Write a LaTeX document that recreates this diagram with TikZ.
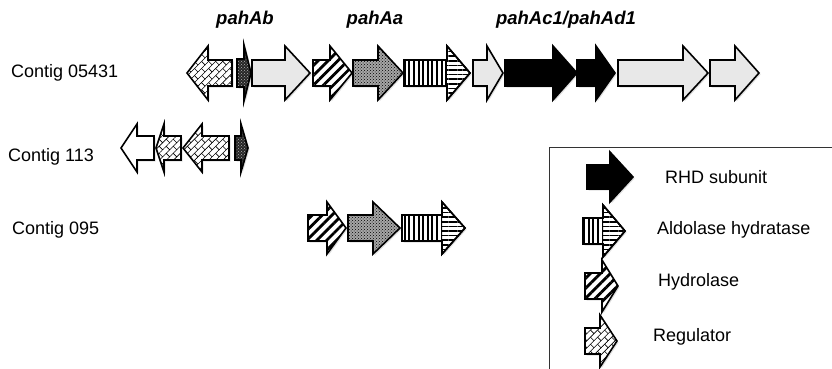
\documentclass[tikz,border=0pt]{standalone}
\usepackage{fontspec}
\setmainfont{Liberation Sans}
\usetikzlibrary{patterns,patterns.meta,shadows}

\tikzdeclarepattern{
  name=diagbricks,
  type=uncolored,
  bottom left={(-.5pt,-.5pt)},
  top right={(10.5pt,10.5pt)},
  tile size={(10pt,10pt)},
  tile transformation={rotate=45},
  code={
    \draw[line width=.6pt] (0pt,0pt) -- (10pt,0pt) (0pt,5pt) -- (10pt,5pt)
      (0pt,0pt) -- (0pt,5pt) (5pt,5pt) -- (5pt,10pt);
  }
}

% gene arrow: start, head base, tip, centre y, body half, head half, style
\newcommand{\gene}[7]{%
  \draw[#7] (#1,#4-#5) -- (#2,#4-#5) -- (#2,#4-#6) -- (#3,#4)
    -- (#2,#4+#6) -- (#2,#4+#5) -- (#1,#4+#5) -- cycle;}
% aldolase hydratase: vertical stripes in the body, horizontal in the head
\newcommand{\aldgene}[6]{%
  \gene{#1}{#2}{#3}{#4}{#5}{#6}{gene, fill=white}
  \fill[pattern={Lines[angle=90,distance=4.6pt,line width=2.1pt]}]
    (#1,#4-#5) rectangle (#2,#4+#5);
  \fill[pattern={Lines[angle=0,distance=4.6pt,line width=1.6pt]}]
    (#2,#4-#6) -- (#3,#4) -- (#2,#4+#6) -- cycle;
  \gene{#1}{#2}{#3}{#4}{#5}{#6}{outline}}

\begin{document}
\begin{tikzpicture}[x=1pt, y=-1pt,
    outline/.style={line width=1.6pt, line join=miter},
    gene/.style={outline, drop shadow={opacity=.25, shadow xshift=1.5pt, shadow yshift=-1.5pt}},
    regulator/.style={gene, preaction={fill=white}, pattern=diagbricks},
    hydrolase/.style={gene, preaction={fill=white}, pattern={Lines[angle=45,distance=7pt,line width=2.8pt]}},
    dotgene/.style={gene, preaction={fill=gray!70}, pattern=crosshatch dots},
    darkgene/.style={gene, preaction={fill=black!85}, pattern=crosshatch dots, pattern color=gray!60},
    rhd/.style={gene, fill=black},
    othergene/.style={gene, fill=gray!18},
    blank/.style={gene, fill=white},
    lab/.style={anchor=west, inner sep=0pt, font=\fontsize{18}{21}\selectfont},
    genename/.style={inner sep=0pt, font=\fontsize{18.5}{22}\selectfont\bfseries\itshape}]
  \useasboundingbox (0,0) rectangle (832,369);

  % contig labels
  \node[lab] (c05431) at (11,73) {Contig 05431};
  \node[lab] (c113) at (8,157) {Contig 113};
  \node[lab] (c095) at (12,230) {Contig 095};

  % gene names
  \node[genename] (pahab) at (245,20) {pahAb};
  \node[genename] (pahaa) at (375,20) {pahAa};
  \node[genename] (pahac) at (566,20) {pahAc1/pahAd1};

  % contig 05431
  \gene{232}{208}{187}{73}{13}{27}{regulator}
  \gene{237}{244}{251}{73}{14}{28}{darkgene}
  \gene{252}{285}{310}{73}{13}{27}{othergene}
  \gene{313}{330}{352}{73}{13}{27}{hydrolase}
  \gene{353}{378}{403}{73}{13}{27}{dotgene}
  \aldgene{404}{447}{470}{73}{13}{27}
  \gene{473}{487}{503}{73}{13}{27}{othergene}
  \gene{505}{553}{577}{73}{13}{27}{rhd}
  \gene{577}{596}{615}{73}{13}{27}{rhd}
  \gene{618}{683}{708}{73}{13}{27}{othergene}
  \gene{710}{735}{759}{73}{13}{27}{othergene}

  % contig 113
  \gene{154}{137}{121}{148}{12}{24}{blank}
  \gene{181}{164}{156}{148}{12}{24}{regulator}
  \gene{229}{202}{183}{148}{12}{24}{regulator}
  \gene{235}{241}{248}{148}{12}{24}{darkgene}

  % contig 095
  \gene{308}{327}{346}{228}{13}{26}{hydrolase}
  \gene{348}{373}{400}{228}{13}{26}{dotgene}
  \aldgene{402}{442}{465}{228}{13}{26}

  % legend
  \draw[line width=1pt, gray!40!black] (832,147) -- (549,147) -- (549,369);
  \gene{587}{610}{633}{177}{12}{25}{rhd}
  \aldgene{583}{603}{625}{231}{13}{26}
  \gene{585}{602}{618}{286}{13}{26}{hydrolase}
  \gene{585}{600}{617}{341}{13}{26}{regulator}
  \node[lab] (krhd) at (665,177) {RHD subunit};
  \node[lab] (kald) at (657,230) {Aldolase hydratase};
  \node[lab] (khyd) at (658,282) {Hydrolase};
  \node[lab] (kreg) at (653,337) {Regulator};
\end{tikzpicture}
\end{document}
